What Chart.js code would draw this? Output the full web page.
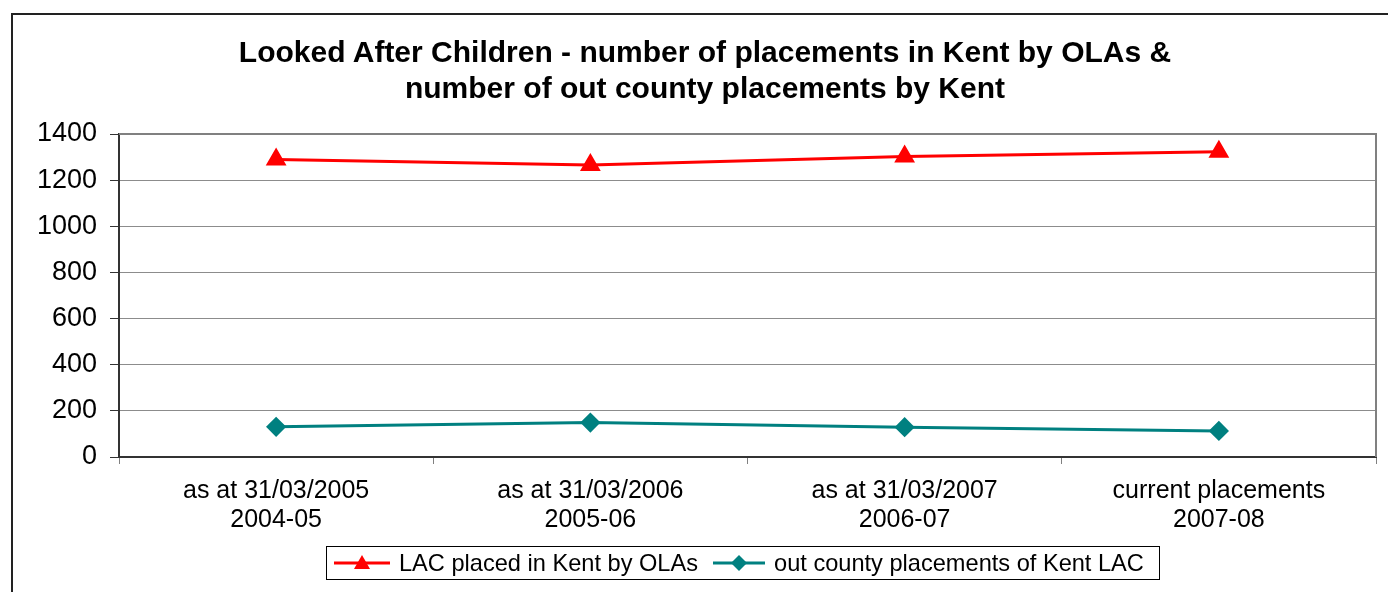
<!DOCTYPE html>
<html>
<head>
<meta charset="utf-8">
<script src="https://cdn.jsdelivr.net/npm/chart.js@4"></script>
<style>
  html, body { margin: 0; padding: 0; background: #fff; }
  #wrap { position: relative; width: 1388px; height: 592px; overflow: hidden; font-family: "Liberation Sans", Arial, sans-serif; }
  #frame { position: absolute; left: 11px; top: 13px; width: 1420px; height: 640px; border: 2px solid #222; box-sizing: border-box; }
  #title { position: absolute; left: 0; top: 34px; width: 1410px; text-align: center; font-weight: bold; font-size: 30px; line-height: 36px; color: #000; }
  #legend { position: absolute; left: 326px; top: 546px; width: 834px; height: 34px; border: 1px solid #000; box-sizing: border-box; display: flex; align-items: center; font-size: 23.6px; color: #000; white-space: nowrap; }
  .item { display: flex; align-items: center; margin-left: 6px; }
  .item svg { margin-right: 8px; }
  canvas { position: absolute; left: 0; top: 0; }
</style>
</head>
<body>
<div id="wrap">
  <div id="frame"></div>
  <canvas id="chart" width="1388" height="592"></canvas>
  <div id="title">Looked After Children - number of placements in Kent by OLAs &amp;<br>number of out county placements by Kent</div>
  <div id="legend">
    <div class="item">
      <svg width="58" height="20"><line x1="1" y1="10" x2="57" y2="10" stroke="#ff0000" stroke-width="3"/><polygon points="29,2 37,16 21,16" fill="#ff0000"/></svg>
      <span>LAC placed in Kent by OLAs</span>
    </div>
    <div class="item" style="margin-left:14px">
      <svg width="54" height="20"><line x1="1" y1="10" x2="53" y2="10" stroke="#008080" stroke-width="3"/><polygon points="27,2 35,10 27,18 19,10" fill="#008080"/></svg>
      <span>out county placements of Kent LAC</span>
    </div>
  </div>
</div>
<script>
const categories = [
  ['as at 31/03/2005', '2004-05'],
  ['as at 31/03/2006', '2005-06'],
  ['as at 31/03/2007', '2006-07'],
  ['current placements', '2007-08']
];
const lacPlacedInKent = [1290, 1266, 1302, 1323];
const outCountyPlacements = [131, 149, 129, 113];
const yTicks = [0, 200, 400, 600, 800, 1000, 1200, 1400];

// plot area border on top / right
const plotBorder = {
  id: 'plotBorder',
  beforeDatasetsDraw(chart) {
    const { ctx, chartArea: a } = chart;
    ctx.save();
    ctx.strokeStyle = '#808080';
    ctx.lineWidth = 2;
    ctx.beginPath();
    ctx.moveTo(a.left, a.top);
    ctx.lineTo(a.right, a.top);
    ctx.lineTo(a.right, a.bottom);
    ctx.stroke();
    ctx.restore();
  }
};

new Chart(document.getElementById('chart'), {
  type: 'line',
  data: {
    labels: categories,
    datasets: [{
      label: 'LAC placed in Kent by OLAs',
      data: lacPlacedInKent,
      borderColor: '#ff0000',
      backgroundColor: '#ff0000',
      borderWidth: 3,
      pointStyle: 'triangle',
      pointRadius: 9,
      pointHoverRadius: 9,
      tension: 0
    }, {
      label: 'out county placements of Kent LAC',
      data: outCountyPlacements,
      borderColor: '#008080',
      backgroundColor: '#008080',
      borderWidth: 3,
      pointStyle: 'rectRot',
      pointRadius: 8,
      pointHoverRadius: 8,
      tension: 0
    }]
  },
  options: {
    responsive: false,
    animation: false,
    layout: { padding: { top: 134, right: 10, left: 0, bottom: 0 } },
    plugins: { legend: { display: false }, title: { display: false }, tooltip: { enabled: false } },
    scales: {
      x: {
        offset: true,
        afterFit: s => { s.height = 135; },
        grid: { offset: true, drawOnChartArea: false, drawTicks: true, tickLength: 7, color: '#808080', lineWidth: 1 },
        border: { color: '#333', width: 2 },
        ticks: { color: '#000', padding: 13, maxRotation: 0, autoSkip: false, font: { family: 'Liberation Sans', size: 25, lineHeight: 1.16 } }
      },
      y: {
        min: 0, max: 1400,
        afterFit: s => { s.width = 119; },
        afterBuildTicks: s => { s.ticks = yTicks.map(v => ({ value: v })); },
        grid: { color: '#8c8c8c', lineWidth: 1, tickLength: 9, tickColor: '#333' },
        border: { color: '#333', width: 2 },
        ticks: { color: '#000', padding: 13, callback: v => String(v), font: { family: 'Liberation Sans', size: 27 } }
      }
    }
  },
  plugins: [plotBorder]
});
</script>
</body>
</html>
